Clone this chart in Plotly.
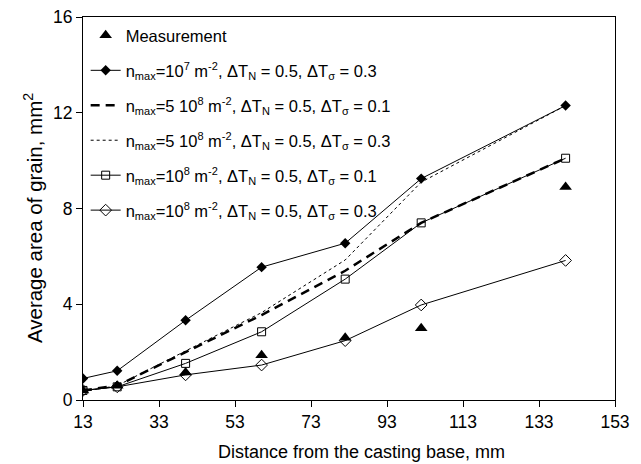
import plotly.graph_objects as go

x = [13, 22, 40, 60, 82, 102, 140]
meas = [0.4, 0.6, 1.15, 1.87, 2.6, 3.0, 8.9]
s_1e7_03 = [0.9, 1.22, 3.33, 5.55, 6.55, 9.25, 12.3]
s_5e8_01 = [0.4, 0.6, 2.0, 3.55, 5.4, 7.4, 10.1]
s_5e8_03 = [0.35, 0.6, 2.05, 3.65, 5.85, 9.1, 12.3]
s_1e8_01 = [0.4, 0.55, 1.53, 2.85, 5.05, 7.4, 10.1]
s_1e8_03 = [0.4, 0.55, 1.05, 1.46, 2.48, 3.97, 5.83]

x_ticks = [13, 33, 53, 73, 93, 113, 133, 153]
y_ticks = [0, 4, 8, 12, 16]


def sm(t):
    return '<span style="font-size:11px">' + t + '</span>'


def lab(n, sig):
    return ("n<sub>" + sm("max") + "</sub>=" + n + " m<sup>" + sm("-2") + "</sup>, ΔT<sub>" + sm("N")
            + "</sub> = 0.5, ΔT<sub>" + sm("σ") + "</sub> = " + sig)


names = [
    "Measurement",
    lab("10<sup>" + sm("7") + "</sup>", "0.3"),
    lab("5 10<sup>" + sm("8") + "</sup>", "0.1"),
    lab("5 10<sup>" + sm("8") + "</sup>", "0.3"),
    lab("10<sup>" + sm("8") + "</sup>", "0.1"),
    lab("10<sup>" + sm("8") + "</sup>", "0.3"),
]

fig = go.Figure()
fig.add_trace(go.Scatter(x=x, y=s_1e8_03, mode="lines+markers", name=names[5], legendrank=6, legendgroup="g6",
                         line=dict(color="black", width=1),
                         marker=dict(symbol="diamond-open", size=9, color="black", line=dict(width=1))))
fig.add_trace(go.Scatter(x=x, y=s_1e8_01, mode="lines+markers", name=names[4], legendrank=5, legendgroup="g5",
                         line=dict(color="black", width=1),
                         marker=dict(symbol="square-open", size=8, color="black", line=dict(width=1))))
fig.add_trace(go.Scatter(x=x, y=s_5e8_03, mode="lines", name=names[3], legendrank=4, legendgroup="g4",
                         line=dict(color="black", width=1, dash="dot")))
fig.add_trace(go.Scatter(x=x, y=s_5e8_01, mode="lines", name=names[2], legendrank=3, legendgroup="g3",
                         line=dict(color="black", width=2.5, dash="9px,6px")))
fig.add_trace(go.Scatter(x=x, y=s_1e7_03, mode="lines+markers", name=names[1], legendrank=2, legendgroup="g2",
                         line=dict(color="black", width=1),
                         marker=dict(symbol="diamond", size=8, color="black")))
fig.add_trace(go.Scatter(x=x, y=meas, mode="markers", name=names[0], legendrank=1, legendgroup="g1",
                         marker=dict(symbol="triangle-up", size=11, color="black")))

axis_common = dict(showline=True, linecolor="black", linewidth=1, mirror=True, ticks="outside",
                   ticklen=6, tickcolor="black", showgrid=False, zeroline=False, automargin=False,
                   ticklabeloverflow="allow",
                   tickfont=dict(family="Liberation Sans, Arial", size=17.5, color="black"))

fig.update_layout(
    width=641, height=464,
    margin=dict(l=75, r=34, t=9, b=72),
    paper_bgcolor="white", plot_bgcolor="white",
    font=dict(family="Liberation Sans, Arial", color="black"),
    showlegend=True,
    legend=dict(x=0.005, y=0.997, xanchor="left", yanchor="top", bgcolor="rgba(0,0,0,0)",
                font=dict(family="Liberation Sans, Arial", size=16.5, color="black"),
                tracegroupgap=10.5, itemwidth=30),
    xaxis=dict(range=[13, 153], tickvals=x_ticks, **axis_common),
    yaxis=dict(range=[0, 16], tickvals=y_ticks, **axis_common),
    annotations=[
        dict(text="Distance from the casting base, mm", xref="paper", yref="paper",
             x=0.524, y=-0.136, xanchor="center", yanchor="middle", showarrow=False,
             font=dict(family="Liberation Sans, Arial", size=18, color="black")),
        dict(text="Average area of grain, mm<sup>2</sup>", xref="paper", yref="paper",
             x=-0.094, y=0.475, xanchor="center", yanchor="middle", showarrow=False, textangle=-90,
             font=dict(family="Liberation Sans, Arial", size=20.5, color="black")),
    ],
)

fig.write_html("out.html")
